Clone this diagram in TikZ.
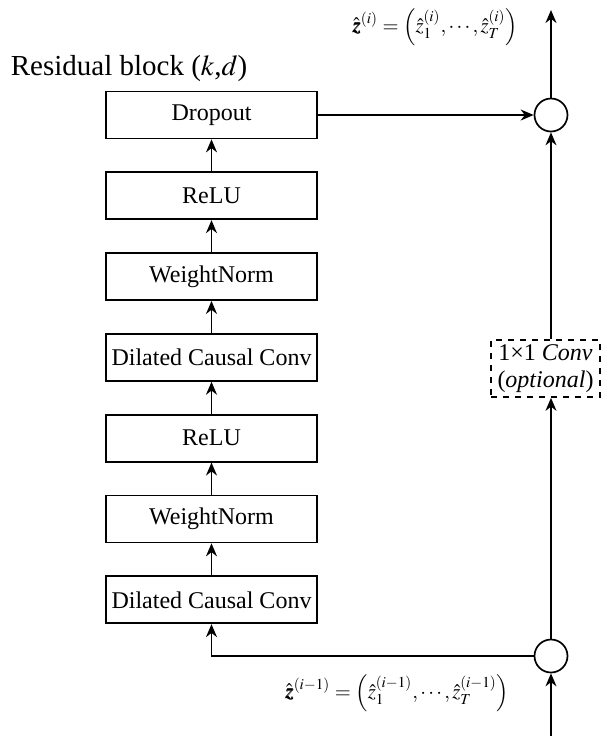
\documentclass[tikz,border=0pt]{standalone}
\usepackage{mathptmx}
\usepackage{bm}
\usepackage{fontspec}
\setmainfont{Liberation Serif}
\usetikzlibrary{arrows.meta}

\begin{document}
\begin{tikzpicture}[x=0.5pt,y=-0.5pt,
    layer/.style={draw, line width=0.85pt, minimum width=105.5pt, minimum height=23.5pt,
      inner sep=0pt, font=\fontsize{12}{13.5}\selectfont},
    addop/.style={draw, circle, line width=0.85pt, minimum size=16.5pt, inner sep=0pt},
    flow/.style={line width=0.85pt, -{Stealth[length=6.5pt,width=5.5pt]}}]
  \useasboundingbox (0,0) rectangle (602,736);
  \node[font=\fontsize{14.5}{17}\selectfont] (title) at (129,69) {Residual block ($k$,$d$)};
  % layers of the block
  \node[layer] (drop) at (211.5,115) {Dropout};
  \node[layer] (relu1) at (211.5,195.8) {ReLU};
  \node[layer] (wn1) at (211.5,276.6) {WeightNorm};
  \node[layer] (dcc1) at (211.5,357.4) {Dilated Causal Conv};
  \node[layer] (relu2) at (211.5,438.2) {ReLU};
  \node[layer] (wn2) at (211.5,519) {WeightNorm};
  \node[layer] (dcc2) at (211.5,599.8) {Dilated Causal Conv};
  \foreach \a/\b in {dcc2/wn2, wn2/relu2, relu2/dcc1, dcc1/wn1, wn1/relu1, relu1/drop}
    \draw[flow] (\a) -- (\b);
  % residual path
  \node[addop] (sum) at (551,115) {};
  \node[addop] (split) at (551,656) {};
  \node[layer, dashed, minimum width=54.5pt, minimum height=28.5pt, align=center] (conv)
    at (545.5,368.5) {1×1 \emph{Conv}\\(\emph{optional})};
  \coordinate (out) at (551,10);
  \coordinate (in) at (551,736);
  \draw[flow] (in) -- (split);
  \draw[flow] (split) -- (split |- conv.south);
  \draw[flow] (conv.north -| sum) -- (sum);
  \draw[flow] (sum) -- (out);
  \draw[flow] (drop) -- (sum);
  \draw[flow] (split) -| (dcc2);
  % sequences
  \node[font=\fontsize{10.3}{12}\selectfont] (zout) at (435,27)
    {$\hat{\bm{z}}^{(i)}=\left(\hat{z}_1^{(i)},\cdots,\hat{z}_T^{(i)}\right)$};
  \node[font=\fontsize{10.3}{12}\selectfont] (zin) at (397,693)
    {$\hat{\bm{z}}^{(i-1)}=\left(\hat{z}_1^{(i-1)},\cdots,\hat{z}_T^{(i-1)}\right)$};
\end{tikzpicture}
\end{document}
